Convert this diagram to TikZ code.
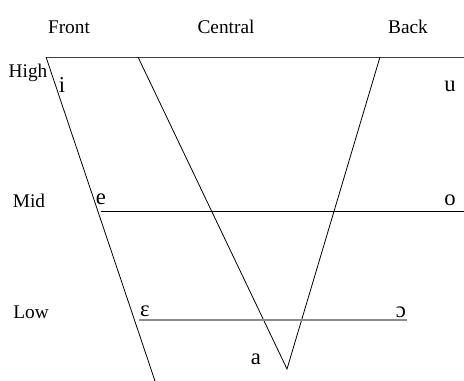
\documentclass[tikz,border=0pt]{standalone}
\usepackage{fontspec}
\setmainfont{Liberation Serif}
\usepackage{tikz}
\usetikzlibrary{calc}

\begin{document}
\begin{tikzpicture}[x=0.75pt,y=-0.75pt,
  lbl/.style={font=\fontsize{14.5}{16}\selectfont, inner sep=0pt},
  vwl/.style={font=\fontsize{17}{19}\selectfont, inner sep=0pt},
  edge/.style={line width=0.6pt}]
\useasboundingbox (0,0) rectangle (464,381);
\node[lbl] (front) at (69,27) {Front};
\node[lbl] (central) at (226,27) {Central};
\node[lbl] (back) at (408,27) {Back};
\node[lbl] (high) at (28,73) {High};
\node[lbl] (mid) at (29,201) {Mid};
\node[lbl] (low) at (31,312) {Low};
\node[vwl] (i) at (62,85) {i};
\node[vwl] (u) at (450,86) {u};
\node[vwl] (e) at (101,199) {e};
\node[vwl] (o) at (450,200) {o};
\node[vwl] (eps) at (145,311) {ɛ};
\node[vwl] (oo) at (401,312) {ɔ};
\node[vwl] (a) at (256,359) {a};
\coordinate (tl) at (46,57);
\coordinate (tc) at (138,57);
\coordinate (tb) at (380,57);
\coordinate (tr) at (464,57);
\coordinate (bl) at (155,381);
\coordinate (bot) at (287,369);
\coordinate (ml) at (101,211);
\coordinate (mr) at (464,211);
\coordinate (ll) at (139,320);
\coordinate (lr) at (407,320);
\draw[edge, black!75] (tl) -- (tr);
\draw[edge] (tl) -- (bl);
\draw[edge] (tc) -- (bot) -- (tb);
\draw[edge] (ml) -- (mr);
\draw[line width=1pt, black!45] (ll) -- (lr);
\end{tikzpicture}
\end{document}
